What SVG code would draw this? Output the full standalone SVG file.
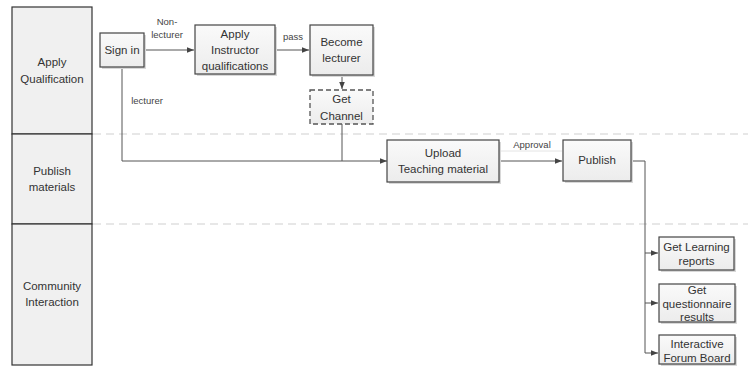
<svg xmlns="http://www.w3.org/2000/svg" width="748" height="371" viewBox="0 0 748 371">
<defs>
<linearGradient id="g" x1="0" y1="0" x2="0" y2="1"><stop offset="0" stop-color="#fafafa"/><stop offset="1" stop-color="#ececec"/></linearGradient>
<marker id="ah" viewBox="0 0 10 10" refX="10" refY="5" markerWidth="7" markerHeight="7" orient="auto" markerUnits="userSpaceOnUse"><path d="M0,1 L10,5 L0,9 z" fill="#444"/></marker>
</defs>
<style>
.lane{fill:#f0f0f0;stroke:#333;stroke-width:1.2}
.sep{stroke:#cfcfcf;stroke-width:1;stroke-dasharray:8,5}
.box{fill:url(#g);stroke:#444;stroke-width:1.2}
.shadow{fill:#d8d8d8}
.dash{fill:url(#g);stroke:#555;stroke-width:1.3;stroke-dasharray:5,3}
.c{fill:none;stroke:#555;stroke-width:1}
text{font-family:"Liberation Sans",Arial,sans-serif;fill:#333;text-anchor:middle}
.t{font-size:11.5px}
.s{font-size:9.5px;fill:#444}
</style>
<rect width="748" height="371" fill="#fff"/>
<g id="lanes">
<line class="sep" x1="93" y1="134" x2="748" y2="134"/>
<line class="sep" x1="93" y1="224" x2="748" y2="224"/>
<g id="lane-apply"><rect class="lane" x="12" y="7" width="80" height="127"/><text class="t" x="52" y="66">Apply</text><text class="t" x="52" y="83">Qualification</text></g>
<g id="lane-publish"><rect class="lane" x="12" y="134" width="80" height="90"/><text class="t" x="52" y="175">Publish</text><text class="t" x="52" y="191">materials</text></g>
<g id="lane-community"><rect class="lane" x="12" y="224" width="80" height="141"/><text class="t" x="52" y="290">Community</text><text class="t" x="52" y="306">Interaction</text></g>
</g>
<g id="connectors">
<path class="c" d="M144,50 H194" marker-end="url(#ah)"/>
<path class="c" d="M275,50 H309" marker-end="url(#ah)"/>
<path class="c" d="M342,75 V89" marker-end="url(#ah)"/>
<path class="c" d="M122,67 V161 H387" marker-end="url(#ah)"/>
<path class="c" d="M342,124 V161"/>
<line x1="500" y1="151" x2="562" y2="151" stroke="#e4e4e4" stroke-width="1"/>
<path class="c" d="M499,161 H562" marker-end="url(#ah)"/>
<path class="c" d="M631,161 H645 V353"/>
<path class="c" d="M645,253 H658" marker-end="url(#ah)"/>
<path class="c" d="M645,303 H658" marker-end="url(#ah)"/>
<path class="c" d="M645,353 H658" marker-end="url(#ah)"/>
<text class="s" x="167" y="25">Non-</text>
<text class="s" x="167" y="38">lecturer</text>
<text class="s" x="293" y="40">pass</text>
<text class="s" x="147" y="104">lecturer</text>
<text class="s" x="532" y="148">Approval</text>
</g>
<g id="n-signin"><rect class="shadow" x="102" y="35" width="44" height="34"/><rect class="box" x="100" y="33" width="44" height="34"/><text class="t" x="122" y="54">Sign in</text></g>
<g id="n-applyinstr"><rect class="shadow" x="197" y="27" width="80" height="49"/><rect class="box" x="195" y="25" width="80" height="49"/><text class="t" x="235" y="38">Apply</text><text class="t" x="235" y="54">Instructor</text><text class="t" x="235" y="70">qualifications</text></g>
<g id="n-become"><rect class="shadow" x="312" y="27" width="63" height="50"/><rect class="box" x="310" y="25" width="63" height="50" stroke-width="1.6"/><text class="t" x="341.5" y="46">Become</text><text class="t" x="341.5" y="62">lecturer</text></g>
<g id="n-channel"><rect class="dash" x="310" y="90" width="63" height="34"/><text class="t" x="341.5" y="103">Get</text><text class="t" x="341.5" y="120">Channel</text></g>
<g id="n-upload"><rect class="shadow" x="389" y="142" width="112" height="42"/><rect class="box" x="387" y="140" width="112" height="42"/><text class="t" x="443" y="157">Upload</text><text class="t" x="443" y="173">Teaching material</text></g>
<g id="n-publish"><rect class="shadow" x="565" y="142" width="68" height="41"/><rect class="box" x="563" y="140" width="68" height="41"/><text class="t" x="597" y="164">Publish</text></g>
<g id="n-reports"><rect class="shadow" x="661" y="239" width="75" height="33"/><rect class="box" x="659" y="237" width="75" height="33"/><text class="t" x="696.5" y="251">Get Learning</text><text class="t" x="696.5" y="265">reports</text></g>
<g id="n-questionnaire"><rect class="shadow" x="661" y="286" width="76" height="38"/><rect class="box" x="659" y="284" width="76" height="38"/><text class="t" x="697" y="294">Get</text><text class="t" x="697" y="308">questionnaire</text><text class="t" x="697" y="321">results</text></g>
<g id="n-forum"><rect class="shadow" x="661" y="337" width="76" height="29"/><rect class="box" x="659" y="335" width="76" height="29"/><text class="t" x="697" y="348">Interactive</text><text class="t" x="697" y="362">Forum Board</text></g>
</svg>
